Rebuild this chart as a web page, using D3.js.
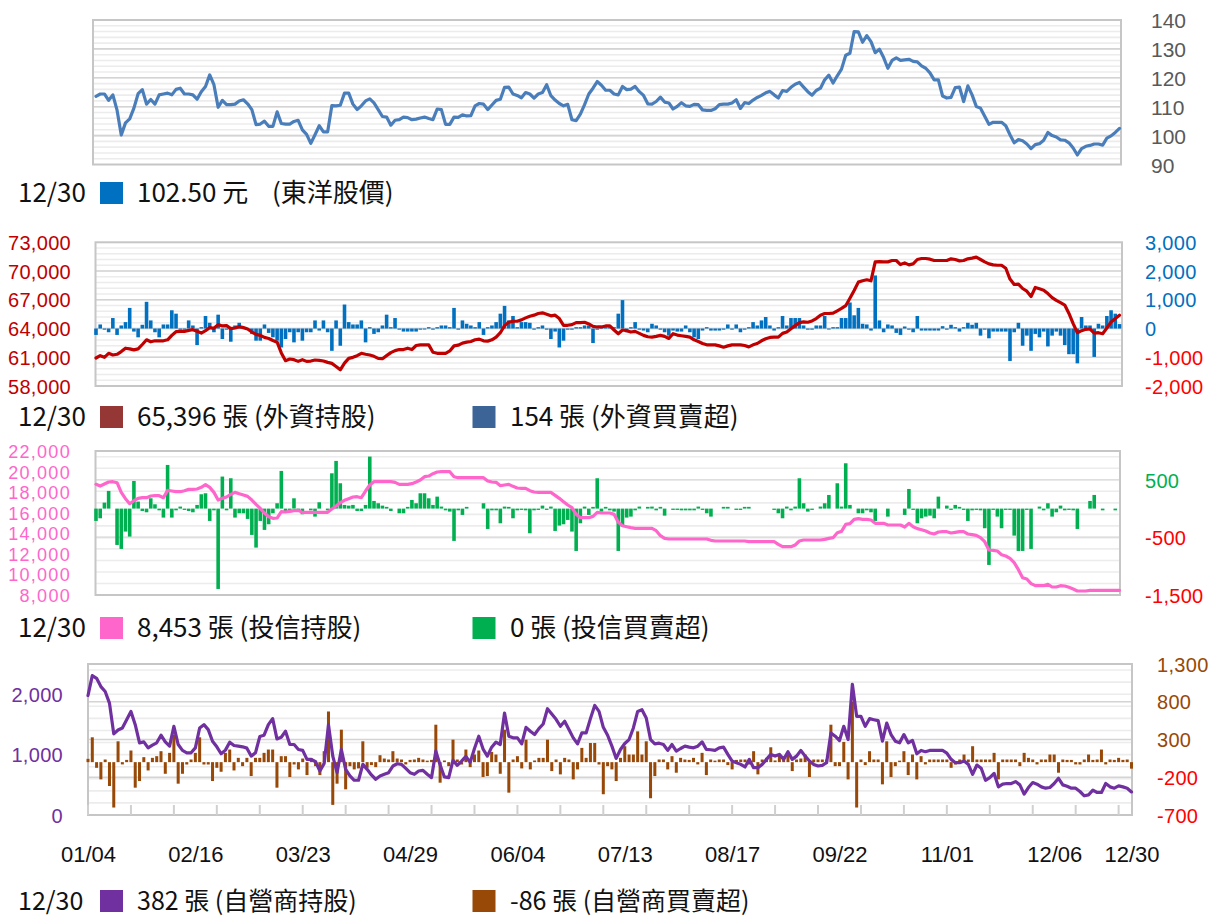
<!DOCTYPE html>
<html>
<head>
<meta charset="utf-8">
<script src="https://d3js.org/d3.v7.min.js"></script>
<style>
  body { margin: 0; background: #ffffff; }
  svg { display: block; }
</style>
</head>
<body>
<svg id="chart" width="1211" height="917"></svg>
<script>
// ---- Trading-day axis labels (index into the daily series) ----
const xTickDays = [0, 25, 50, 75, 100, 125, 150, 175, 200, 225, 243];
const xTickLabels = ["01/04", "02/16", "03/23", "04/29", "06/04", "07/13", "08/17", "09/22", "11/01", "12/06", "12/30"];
const lastDate = "12/30";

// ---- 東洋 daily close (元) ----
const price = [
  113.6,114.4,114.4,112.2,114.1,108.8,100.2,104.4,105.8,109.5,
  114.5,115.9,110.9,112.5,110.9,114.1,114.4,114.7,114.1,116.0,
  116.4,114.4,114.4,114.1,112.6,115.2,117.0,121.0,117.6,109.8,
  112.2,110.7,110.7,110.9,112.0,112.4,111.0,109.0,103.8,104.0,
  105.0,103.2,103.2,108.2,104.2,104.0,104.0,104.9,105.3,102.0,
  100.4,97.3,100.3,103.4,101.3,101.3,110.4,110.3,110.5,114.7,
  114.7,110.9,109.0,110.3,112.0,112.7,111.3,109.0,106.6,106.4,
  103.6,105.3,105.5,106.4,106.2,105.5,105.7,106.1,106.4,105.9,
  105.5,109.2,109.0,103.9,103.9,106.4,106.3,107.2,106.8,106.9,
  110.3,111.1,110.9,109.0,110.6,112.2,112.6,116.7,116.8,114.4,
  113.9,113.1,114.9,114.4,113.0,114.4,114.9,117.6,113.8,112.3,
  111.1,110.3,110.8,105.5,105.2,107.4,110.7,114.4,116.4,118.7,
  117.4,115.7,115.7,114.4,114.1,117.0,115.9,116.1,117.0,115.2,
  113.9,111.0,110.9,111.8,113.3,111.6,111.3,109.2,110.1,111.4,
  110.3,110.1,110.8,110.7,108.9,108.7,108.7,109.3,110.7,110.9,
  110.9,111.3,112.4,109.4,111.4,111.1,112.3,113.2,113.9,114.8,
  115.3,114.1,113.0,115.6,115.3,116.7,117.8,118.4,116.8,115.2,
  114.0,115.6,116.4,119.3,120.9,118.2,120.7,123.0,127.8,128.5,
  136.0,135.9,132.3,134.6,132.5,128.7,129.9,127.0,123.3,126.0,
  126.9,126.0,126.2,126.4,125.7,125.5,124.1,123.3,121.7,119.3,
  119.3,113.7,113.0,113.2,116.6,116.8,111.8,117.2,114.1,110.1,
  109.5,106.7,103.9,104.6,104.6,104.6,103.4,100.3,97.5,98.6,
  98.2,97.1,95.5,96.9,97.2,98.4,101.1,100.0,99.5,98.5,
  98.4,97.5,95.7,93.3,95.5,96.3,96.6,97.1,97.1,96.7,
  99.1,99.9,101.1,102.5
];

// ---- 外資持股 (張) ----
const foreignHold = [
  60922,61169,60993,61415,61239,61310,61591,61944,61873,61767,
  61873,62331,62824,62613,62718,62718,62718,62824,63282,63669,
  63704,63704,63810,63880,63704,63528,63775,64091,64021,64408,
  64267,64303,63986,64056,64197,64091,63951,63634,63387,63282,
  63070,62965,62753,62577,61451,60641,60817,60746,60570,60746,
  60570,60605,60711,60676,60605,60465,60359,60042,59690,60394,
  60887,60993,61169,61415,61310,61239,61098,60887,60852,61169,
  61486,61697,61803,61803,61944,61803,62225,62296,62296,62296,
  61521,61415,61415,61415,61662,62190,62260,62472,62577,62648,
  62824,62894,62718,62683,62824,63105,63563,64302,64655,64760,
  64760,64901,65112,65288,65394,65570,65641,65500,65324,65394,
  65042,64338,64338,64408,64619,64619,64655,64479,64232,64162,
  64162,64267,64267,63845,63458,63845,63775,63634,63704,63493,
  63282,63141,63106,63176,63282,63176,62965,63458,63317,63246,
  63176,63106,62824,62648,62437,62296,62296,62296,62190,62049,
  62190,62296,62296,62296,62225,62084,62296,62437,62718,62929,
  63070,63106,63106,63493,63634,63986,64302,64619,64690,64655,
  64795,65042,65394,65570,65570,65605,65852,66098,66380,67155,
  67964,68845,68986,69091,68986,70957,70992,70957,70957,71098,
  71098,70676,70852,70640,70746,71204,71310,71310,71239,71098,
  71098,71098,71098,71274,71204,71063,71098,71274,71345,71450,
  71204,70957,70746,70640,70605,70605,70288,69162,68598,68634,
  68176,67894,67331,68282,68141,68000,67648,67225,66943,66697,
  66450,65570,64514,63563,63775,63915,63951,63528,63563,63458,
  64056,64690,65042,65396
];

// ---- 外資買賣超 (張) ----
const foreignNet = [
  -223,141,-40,-130,365,-223,106,223,717,-106,
  -306,130,929,282,-130,-306,141,141,635,517,
  -40,-40,282,106,-576,47,435,200,-130,482,
  -365,-40,-459,106,200,47,-40,-188,-423,-423,
  141,-153,-306,-423,-659,-365,-130,-482,-130,-423,
  -130,-130,282,-71,282,-130,-776,282,-600,835,
  223,141,141,282,-482,47,-188,-130,106,482,
  47,365,-40,-106,-106,-106,-106,-40,-35,47,
  -40,47,106,106,47,717,-40,282,165,106,
  47,223,-223,47,106,223,517,788,282,435,
  47,223,223,200,-40,47,106,-40,-365,-106,
  -659,-423,-40,-40,47,47,106,106,-506,-40,
  47,47,47,47,517,988,-130,47,223,-40,
  -71,-130,165,106,-40,-130,-247,-71,-106,-106,
  106,-130,-306,-365,-71,47,-71,-71,-71,-40,
  141,-40,141,-130,-40,47,223,106,282,400,
  106,-71,47,435,106,365,365,365,106,-40,
  -40,106,106,435,-35,47,47,365,365,906,
  459,717,165,141,-71,1846,282,-130,141,106,
  -153,-223,71,-40,-130,435,-71,-71,-71,-71,
  -71,82,-40,130,47,-106,47,200,130,200,
  -247,-40,-341,-106,-106,-106,-106,-1129,-130,200,
  -600,-247,-776,-188,-306,-106,-623,-247,-106,-247,
  -576,-894,-894,-1211,400,106,106,-988,165,106,
  435,635,517,154
];

// ---- 投信持股 (張) ----
const trustHold = [
  18757,18595,18789,18984,19016,18919,17979,17364,16878,17169,
  17396,17461,17461,17623,17655,17655,17461,18174,18109,18044,
  18044,18141,18271,18271,18303,18465,18724,18465,17979,17234,
  17396,17526,17785,17979,17850,17720,17590,17234,16813,16424,
  15970,15614,15452,15484,16100,16068,16132,16197,16230,16035,
  16035,16035,16035,16035,16035,16035,16359,16651,16975,17202,
  17364,17526,17558,17461,18109,18692,19016,19016,19016,19016,
  19016,18951,18757,18757,18757,18822,18984,19178,19502,19567,
  19794,19956,19988,19988,19988,19502,19405,19405,19405,19405,
  19405,19405,19405,19081,18984,18951,18627,18692,18757,18562,
  18400,18368,18368,18141,18012,17979,17979,17979,17979,17688,
  17396,17072,16748,16489,15841,15517,15517,15517,15646,16035,
  15970,15970,15970,15841,15063,14739,14642,14545,14480,14480,
  14480,14480,14480,14253,13767,13508,13443,13443,13443,13443,
  13443,13443,13443,13443,13443,13443,13314,13249,13249,13249,
  13249,13249,13249,13249,13249,13184,13184,13184,13184,13184,
  13184,13184,12925,12698,12698,12698,12860,13249,13346,13346,
  13346,13346,13346,13411,13508,13573,14059,14188,14869,14934,
  15355,15420,15355,15355,15290,14966,14966,14966,14804,14804,
  14804,14804,14610,14966,14642,14448,14350,14221,14026,13929,
  14124,14156,14156,14026,14091,14156,14156,13929,13864,13800,
  13573,13184,12374,12342,12277,11920,11791,11564,11143,10462,
  9685,9555,9102,8907,8907,8907,9037,8778,8778,8907,
  8875,8745,8583,8389,8389,8389,8453,8453,8453,8453,
  8453,8453,8453,8453
];

// ---- 投信買賣超 (張) ----
const trustNet = [
  -214,-168,104,307,0,-631,-700,-399,-486,480,
  122,-41,-64,179,75,-30,-156,758,-156,-30,
  35,-23,-41,-64,64,249,266,-214,-30,-1395,
  556,-30,527,-156,-81,-81,-179,-457,-677,-214,
  -370,-272,-81,93,654,-52,-23,179,-30,-98,
  0,-30,-139,110,0,-30,613,828,440,64,
  52,64,-41,-41,64,903,133,93,52,30,
  -41,0,-81,-81,30,150,93,266,266,179,
  64,208,35,-30,-52,-561,-30,-110,30,0,
  0,0,93,-353,-30,-30,-255,35,30,-168,
  -30,-23,-30,-428,-30,-23,52,-23,35,-388,
  -295,-272,-197,-399,-735,-255,35,-110,30,527,
  -52,30,-30,-52,-735,-313,-156,-139,-30,35,
  0,30,35,-30,30,-122,0,-23,-23,-30,
  -30,-30,-30,35,-23,-81,-139,0,0,30,
  30,0,-23,-23,30,30,0,0,0,0,
  0,-23,-81,-168,35,-30,35,527,93,-52,
  -23,0,35,93,237,0,440,35,787,64,
  0,-81,-81,-30,-64,-214,0,0,-139,0,
  0,0,-110,341,-23,-255,-168,-139,-122,-168,
  208,0,52,-23,64,30,-23,-214,-30,-23,
  -30,-341,-978,-23,-139,-341,-23,-23,-469,-735,
  -735,-23,-700,0,35,-30,93,-139,-64,52,
  -30,-23,-30,-353,0,0,133,237,0,-30,
  0,0,-30,0
];

// ---- 自營商持股 (張) ----
const dealerHold = [
  1978,2307,2263,2126,2044,1852,1343,1408,1441,1578,
  1715,1496,1195,1211,1112,1156,1195,1321,1211,1140,
  1469,1167,1069,1030,1030,1112,1441,1496,1414,1222,
  1129,1014,1074,1206,1151,1140,1129,1107,975,1030,
  1299,1321,1496,1595,1260,1288,1386,1167,1167,1085,
  1069,921,921,882,729,855,1496,975,701,1085,
  756,647,575,575,838,756,663,592,647,674,
  701,811,849,838,773,701,674,729,740,674,
  619,1058,827,630,619,904,822,893,970,871,
  1101,1304,1091,975,1123,1206,1167,1688,1304,1277,
  1277,1178,1452,1386,1332,1430,1507,1759,1671,1584,
  1469,1551,1414,1277,1178,1359,1359,1595,1814,1715,
  1452,1321,1140,937,1085,1184,1249,1441,1715,1743,
  1606,1249,1178,1189,1167,1069,1167,1058,1101,1140,
  1123,1112,1140,1211,1085,1080,1069,1112,1123,1003,
  893,866,838,795,921,784,784,838,921,1003,
  975,1003,921,1047,921,975,1069,975,893,838,
  811,822,866,1359,1304,1233,1469,1249,2165,1633,
  1633,1469,1595,1578,1562,1222,1523,1332,1222,1195,
  1332,1195,1233,1014,1069,1047,1069,1069,1069,1069,
  1025,921,866,866,893,838,674,827,773,575,
  619,690,466,510,521,521,553,499,345,455,
  537,510,466,444,455,521,608,499,477,444,
  444,389,318,334,411,373,373,521,466,444,
  482,466,444,382
];

// ---- 自營商買賣超 (張) ----
const dealerNet = [
  44,329,-75,-228,35,-316,-601,276,-30,30,
  154,-338,-250,66,-110,57,79,145,-154,123,
  364,-285,-154,-31,35,123,329,-31,-31,-250,
  -75,-127,123,167,-110,57,-53,57,-184,57,
  57,123,167,167,-338,79,79,-197,-31,-96,
  48,-171,48,-53,-171,145,671,-566,-285,430,
  -360,-53,-96,-83,276,-75,-39,-66,92,48,
  35,145,48,35,-30,30,35,57,35,20,
  30,496,-272,22,-53,298,35,-31,167,-66,
  101,154,-197,-184,136,101,-154,430,-404,35,
  79,-83,298,-96,22,57,57,298,-118,35,
  -162,57,35,-228,-96,189,57,254,254,-31,
  -425,-53,-96,-250,57,211,101,101,408,101,
  276,-478,-184,35,35,-96,79,-140,57,35,
  30,57,-30,123,-171,35,20,35,35,-39,
  -96,30,35,35,-31,145,-162,35,57,197,
  22,101,35,101,-118,35,48,101,-197,35,
  35,35,35,496,-53,-53,268,-228,800,-601,
  35,-39,145,35,35,-294,276,-197,-53,20,
  145,-171,101,-228,79,-30,35,35,35,35,
  35,-75,-31,35,101,35,211,35,35,35,
  35,123,-228,35,35,35,35,-53,123,57,
  35,-30,35,35,101,101,-140,35,30,30,
  -30,-31,35,101,30,35,167,-30,35,30,
  57,30,35,-86
];

// ---- Axis tick values ----
const priceTicks = [90, 100, 110, 120, 130, 140];
const foreignHoldTicks = [58000, 61000, 64000, 67000, 70000, 73000];
const foreignNetTicks = [-2000, -1000, 0, 1000, 2000, 3000];
const trustHoldTicks = [8000, 10000, 12000, 14000, 16000, 18000, 20000, 22000];
const trustNetTicks = [-1500, -500, 500];
const dealerHoldTicks = [0, 1000, 2000];
const dealerNetTicks = [-700, -200, 300, 800, 1300];

// ---- drawing ----
const FONT = "'Noto Sans CJK TC','Noto Sans',sans-serif";
const NUM_FONT = "'Liberation Sans',Arial,sans-serif";
const days = d3.range(price.length);
// thousands separator with a plain hyphen for negatives
const locale = d3.formatLocale({ decimal: ".", thousands: ",", grouping: [3], currency: ["", ""], minus: "-" });
const fmt = locale.format(",");
const fmt2 = locale.format(".2f");
const svg = d3.select("#chart");

const GRID_MINOR = "#ececec";
const GRID_MAJOR = "#d4d4d4";
const FRAME = "#c6c6c6";

function gridLines(g, scale, values, box, color, width) {
  g.append("g").selectAll("line").data(values).join("line")
    .attr("x1", box.x0).attr("x2", box.x1)
    .attr("y1", d => scale(d)).attr("y2", d => scale(d))
    .attr("stroke", color).attr("stroke-width", width);
}

function frame(g, box) {
  g.append("rect")
    .attr("x", box.x0).attr("y", box.y0)
    .attr("width", box.x1 - box.x0).attr("height", box.y1 - box.y0)
    .attr("fill", "none").attr("stroke", FRAME).attr("stroke-width", 2);
}

function sideAxis(g, axis, xPos, colorFn, size = 20, spacing = 0) {
  const a = g.append("g")
    .attr("transform", `translate(${xPos},0)`)
    .call(axis.tickSize(0).tickPadding(0).tickFormat(fmt));
  a.select(".domain").remove();
  a.attr("font-family", NUM_FONT).attr("font-size", size);
  a.selectAll("text").attr("fill", colorFn).attr("dy", "0.36em")
    .attr("letter-spacing", spacing);
}

function lineSeries(g, x, y, values, color, width) {
  g.append("path").datum(values)
    .attr("fill", "none").attr("stroke", color).attr("stroke-width", width)
    .attr("stroke-linejoin", "round").attr("stroke-linecap", "round")
    .attr("d", d3.line().x((d, i) => x(days[i])).y(d => y(d)));
}

function barSeries(g, x, y, values, color, frac) {
  const bw = x.step() * frac;
  g.append("g").selectAll("rect").data(values).join("rect")
    .attr("x", (d, i) => x(days[i]) - bw / 2)
    .attr("width", bw)
    .attr("y", d => Math.min(y(d), y(0)))
    .attr("height", d => Math.abs(y(d) - y(0)))
    .attr("fill", color);
}

function legendText(g, x, yc, text, size = 26) {
  g.append("text")
    .attr("x", x).attr("y", yc).attr("dy", "0.36em")
    .attr("font-family", FONT).attr("font-size", size).attr("fill", "#111")
    .style("white-space", "pre")
    .text(text);
}

function legendSwatch(g, x, yc, color) {
  g.append("rect").attr("x", x).attr("y", yc - 11).attr("width", 23).attr("height", 22).attr("fill", color);
}

// ===== Panel 1: price =====
{
  const box = { x0: 93, x1: 1121, y0: 20, y1: 164.5 };
  const g = svg.append("g");
  const x = d3.scalePoint().domain(days).range([96, 1119.5]);
  const y = d3.scaleLinear().domain([90, 140]).range([box.y1, box.y0]);
  gridLines(g, y, d3.range(92, 140, 2), box, GRID_MINOR, 1.6);
  gridLines(g, y, [100, 110, 120, 130], box, GRID_MAJOR, 1.6);
  frame(g, box);
  lineSeries(g, x, y, price, "#4a7ebb", 3.2);
  sideAxis(g, d3.axisRight(y).tickValues(priceTicks), 1151, "#595959", 21);

  const yc = 193;
  legendText(g, 18, yc, lastDate);
  legendSwatch(g, 100, yc, "#0070c0");
  legendText(g, 137, yc, fmt2(price[price.length - 1]) + " 元");
  legendText(g, 272, yc, "(東洋股價)");
}

// ===== Panel 2: foreign investors =====
{
  const box = { x0: 95.5, x1: 1122, y0: 242.3, y1: 386 };
  const g = svg.append("g");
  const x = d3.scalePoint().domain(days).range([96, 1119.5]);
  const yL = d3.scaleLinear().domain([58000, 73000]).range([box.y1, box.y0]);
  const yR = d3.scaleLinear().domain([-2000, 3000]).range([box.y1, box.y0]);
  gridLines(g, yR, d3.range(-1800, 3000, 200), box, GRID_MINOR, 1.6);
  gridLines(g, yR, [-1000, 0, 1000, 2000], box, GRID_MAJOR, 1.6);
  frame(g, box);
  barSeries(g, x, yR, foreignNet, "#0070c0", 0.85);
  lineSeries(g, x, yL, foreignHold, "#c00000", 3.2);
  sideAxis(g, d3.axisLeft(yL).tickValues(foreignHoldTicks), 71, "#c00000", 20, 0.3);
  sideAxis(g, d3.axisRight(yR).tickValues(foreignNetTicks), 1145, d => d < 0 ? "#ff0000" : "#0070c0", 20, 0.3);

  const yc = 417;
  legendText(g, 18, yc, lastDate);
  legendSwatch(g, 100, yc, "#953735");
  legendText(g, 137, yc, fmt(foreignHold[foreignHold.length - 1]) + " 張 (外資持股)");
  legendSwatch(g, 472.5, yc, "#3c6496");
  legendText(g, 510, yc, fmt(foreignNet[foreignNet.length - 1]) + " 張 (外資買賣超)");
}

// ===== Panel 3: investment trusts =====
{
  const box = { x0: 95.5, x1: 1120, y0: 451, y1: 595 };
  const g = svg.append("g");
  const x = d3.scalePoint().domain(days).range([96, 1119.5]);
  const yL = d3.scaleLinear().domain([8000, 22000]).range([box.y1, box.y0]);
  const yR = d3.scaleLinear().domain([-1500, 1000]).range([box.y1, box.y0]);
  gridLines(g, yR, d3.range(-1300, 1000, 200), box, GRID_MINOR, 1.6);
  gridLines(g, yR, [-500, 500], box, "#dedede", 1.6);
  frame(g, box);
  barSeries(g, x, yR, trustNet, "#00b050", 0.85);
  lineSeries(g, x, yL, trustHold, "#ff66cc", 3.2);
  sideAxis(g, d3.axisLeft(yL).tickValues(trustHoldTicks), 71, "#ff66cc", 18, 1.3);
  sideAxis(g, d3.axisRight(yR).tickValues(trustNetTicks), 1145, d => d < 0 ? "#ff0000" : "#00b050", 20, 0.3);

  const yc = 628;
  legendText(g, 18, yc, lastDate);
  legendSwatch(g, 100, yc, "#ff66cc");
  legendText(g, 137, yc, fmt(trustHold[trustHold.length - 1]) + " 張 (投信持股)");
  legendSwatch(g, 472.5, yc, "#00b050");
  legendText(g, 510, yc, fmt(trustNet[trustNet.length - 1]) + " 張 (投信買賣超)");
}

// ===== Panel 4: dealers + date axis =====
{
  const box = { x0: 88, x1: 1132, y0: 664, y1: 815 };
  const g = svg.append("g");
  const x = d3.scalePoint().domain(days).range([88, 1131.5]);
  const yL = d3.scaleLinear().domain([0, 2500]).range([box.y1, box.y0]);
  const yR = d3.scaleLinear().domain([-700, 1300]).range([box.y1, box.y0]);
  gridLines(g, yL, d3.range(200, 2500, 200), box, GRID_MINOR, 1.6);
  gridLines(g, yR, [-200, 300, 800], box, GRID_MAJOR, 1.6);
  frame(g, box);

  // session tick marks every 10 trading days
  g.append("g").selectAll("line").data(d3.range(0, days.length, 10)).join("line")
    .attr("x1", d => x(d)).attr("x2", d => x(d))
    .attr("y1", box.y1 - 10).attr("y2", box.y1)
    .attr("stroke", "#d0d0d0").attr("stroke-width", 2);

  barSeries(g, x, yR, dealerNet, "#984807", 0.7);
  lineSeries(g, x, yL, dealerHold, "#7030a0", 3.2);
  sideAxis(g, d3.axisLeft(yL).tickValues(dealerHoldTicks), 63, "#7030a0", 20, 0.3);
  sideAxis(g, d3.axisRight(yR).tickValues(dealerNetTicks), 1157, d => d < 0 ? "#ff0000" : "#984807", 20, 0.3);

  const xa = g.append("g")
    .attr("transform", `translate(0,${box.y1})`)
    .call(d3.axisBottom(x).tickValues(xTickDays)
      .tickFormat(d => xTickLabels[xTickDays.indexOf(d)])
      .tickSize(0).tickPadding(31));
  xa.select(".domain").remove();
  xa.attr("font-family", NUM_FONT).attr("font-size", 22);
  xa.selectAll("text").attr("fill", "#111");

  const yc = 901;
  legendText(g, 18, yc, lastDate, 25);
  legendSwatch(g, 100, yc, "#7030a0");
  legendText(g, 137, yc, fmt(dealerHold[dealerHold.length - 1]) + " 張 (自營商持股)", 25);
  legendSwatch(g, 472.5, yc, "#984807");
  legendText(g, 510, yc, fmt(dealerNet[dealerNet.length - 1]) + " 張 (自營商買賣超)", 25);
}
</script>
</body>
</html>
